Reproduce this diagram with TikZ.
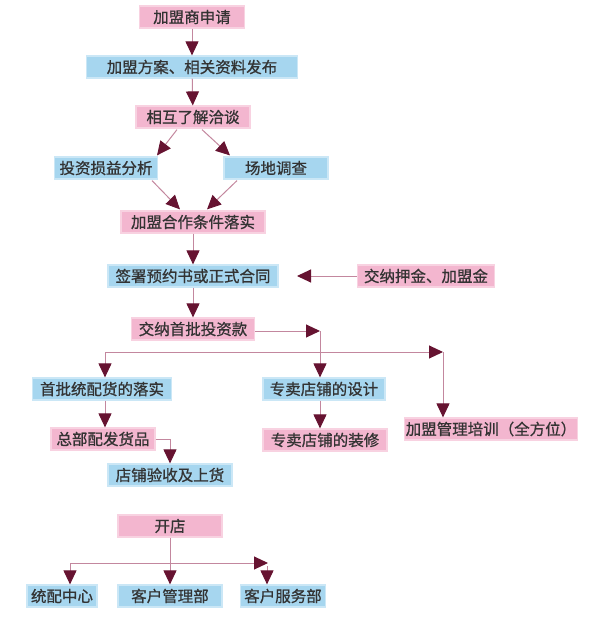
\documentclass[tikz,border=0pt]{standalone}
\usepackage{fontspec}
\setmainfont{Noto Sans CJK SC}[FakeBold=0.8]
\usetikzlibrary{arrows.meta,calc}
\definecolor{pinkbox}{HTML}{F3B6CF}
\definecolor{pinkedge}{HTML}{F8D2E1}
\definecolor{bluebox}{HTML}{A6D6EF}
\definecolor{blueedge}{HTML}{CBE7F6}
\definecolor{linec}{HTML}{C3879E}
\definecolor{tipc}{HTML}{661331}
\definecolor{txt}{HTML}{333333}
\tikzset{
  box/.style={minimum height=22pt, inner sep=0pt, text=txt, font=\fontsize{15.5}{15.5}\selectfont, line width=1.2pt},
  pbox/.style={box, fill=pinkbox, draw=pinkedge},
  bbox/.style={box, fill=bluebox, draw=blueedge},
  ar/.style={draw=linec, line width=1pt, -{Triangle[length=14pt,width=13pt,color=tipc]}},
  ln/.style={draw=linec, line width=1pt}
}
\begin{document}
\begin{tikzpicture}[x=1pt,y=-1pt]
\useasboundingbox (0,0) rectangle (610,627);
\node[pbox, minimum width=105pt] (n1) at (192,17) {加盟商申请};
\node[bbox, minimum width=211pt] (n2) at (192,67) {加盟方案、相关资料发布};
\node[pbox, minimum width=114pt] (n3) at (193,117) {相互了解洽谈};
\node[bbox, minimum width=103pt] (n4) at (106,168) {投资损益分析};
\node[bbox, minimum width=104pt] (n5) at (276,168) {场地调查};
\node[pbox, minimum width=144pt] (n6) at (193,222) {加盟合作条件落实};
\node[bbox, minimum width=170pt] (n7) at (193,276) {签署预约书或正式合同};
\node[pbox, minimum width=137pt] (n8) at (426,276) {交纳押金、加盟金};
\node[pbox, minimum width=123pt] (n9) at (193,329) {交纳首批投资款};
\node[bbox, minimum width=139pt] (n10) at (102,389) {首批统配货的落实};
\node[pbox, minimum width=104pt] (n11) at (103,439) {总部配发货品};
\node[bbox, minimum width=124pt] (n12) at (170,475) {店铺验收及上货};
\node[bbox, minimum width=122pt] (n13) at (324,389) {专卖店铺的设计};
\node[pbox, minimum width=124pt] (n14) at (325,440) {专卖店铺的装修};
\node[pbox, minimum width=173pt] (n15) at (491,429) {加盟管理培训（全方位）};
\node[pbox, minimum width=104pt] (n16) at (170,526) {开店};
\node[bbox, minimum width=70pt] (n17) at (62,596) {统配中心};
\node[bbox, minimum width=104pt] (n18) at (170,596) {客户管理部};
\node[bbox, minimum width=85pt] (n19) at (283,596) {客户服务部};

\coordinate (t87) at (297,276);
\coordinate (c9) at (320,331);
\coordinate (bL) at (105,352);
\coordinate (bR) at (443,352);
\coordinate (c11) at (170,439);
\coordinate (dL) at (70,563);
\coordinate (dR) at (268,563);
\coordinate (dR2) at (267,566);

\draw[ar] (n1) -- (n2);
\draw[ar] (n2) -- (n3);
\draw[ar] ($(n3.south)+(-16,1)$) -- ($(n4.north)+(51,-1)$);
\draw[ar] ($(n3.south)+(9,1)$) -- ($(n5.north)+(-46,-1)$);
\draw[ar] ($(n4.south)+(46,1)$) -- ($(n6.north)+(-13,-1)$);
\draw[ar] ($(n5.south)+(-39,1)$) -- ($(n6.north)+(14,-1)$);
\draw[ar] (n6) -- (n7);
\draw[ar] (n8) -- (t87);
\draw[ar] (n7) -- (n9);
\draw[ar] (n9.east |- c9) -- (c9);
\draw[ar] (c9) -- (c9 |- n13.north);
\draw[ar] (bL) -- (bR);
\draw[ar] (bR) -- (bR |- n15.north);
\draw[ar] (bL) -- (bL |- n10.north);
\draw[ar] (n10.south -| bL) -- (bL |- n11.north);
\draw[ar] (n11.east) -- (c11) -- (n12.north);
\draw[ar] (c9 |- n13.south) -- (c9 |- n14.north);
\draw[ar] (n16) -- (n18);
\draw[ar] (dL) -- (dR);
\draw[ar] (dL) -- (dL |- n17.north);
\draw[ar] (dR2) -- (dR2 |- n19.north);
\end{tikzpicture}
\end{document}
